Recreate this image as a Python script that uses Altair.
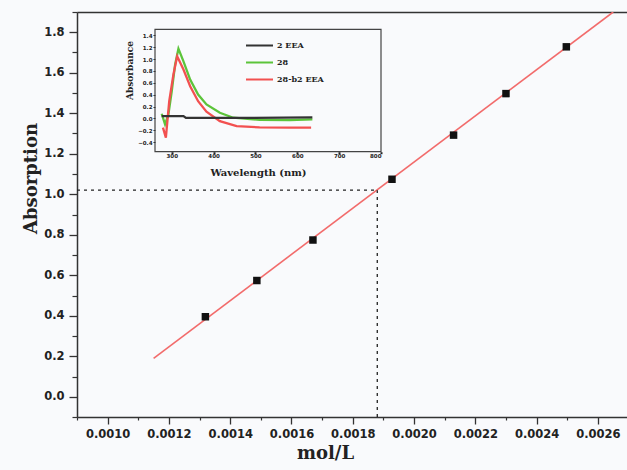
import altair as alt
import pandas as pd

# ---------------- main calibration data ----------------
conc = [0.001319, 0.001487, 0.001670, 0.001928, 0.002129, 0.002300, 0.002497]
absorption = [0.395, 0.574, 0.774, 1.074, 1.292, 1.497, 1.728]
fit_x = [0.00115, 0.00265]
fit_y = [0.19, 1.90]
guide_x = 0.00188
guide_y = 1.02

x_major = [0.0010, 0.0012, 0.0014, 0.0016, 0.0018, 0.0020, 0.0022, 0.0024, 0.0026]
x_minor = [0.0009, 0.0011, 0.0013, 0.0015, 0.0017, 0.0019, 0.0021, 0.0023, 0.0025, 0.0027]
y_major = [0.0, 0.2, 0.4, 0.6, 0.8, 1.0, 1.2, 1.4, 1.6, 1.8]
y_minor = [-0.1, 0.1, 0.3, 0.5, 0.7, 0.9, 1.1, 1.3, 1.5, 1.7, 1.9]
x_domain = [0.0009, 0.002695]
y_domain = [-0.1, 1.9]

# ---------------- inset spectra ----------------
series_names = ["2 EEA", "28", "28-b2 EEA"]
wl_black = [276, 328, 334, 486, 636]
ab_black = [0.039, 0.039, 0.008, 0.008, 0.017]
wl_green = [276, 284, 292, 300, 308, 316, 328, 344, 363, 383, 415, 447, 510, 582, 636]
ab_green = [0.079, -0.10, 0.067, 0.458, 0.906, 1.174, 0.961, 0.654, 0.403, 0.235, 0.096, 0.012, -0.025, -0.03, -0.017]
wl_red = [279, 286, 294, 304, 313, 328, 344, 363, 383, 415, 455, 510, 582, 633]
ab_red = [-0.156, -0.324, 0.29, 0.738, 1.045, 0.822, 0.542, 0.29, 0.112, -0.045, -0.129, -0.151, -0.156, -0.156]
inset_x_ticks = [300, 400, 500, 600, 700, 800]
inset_y_ticks = [-0.4, -0.2, 0.0, 0.2, 0.4, 0.6, 0.8, 1.0, 1.2, 1.4]
inset_x_domain = [260, 800]
inset_y_domain = [-0.56, 1.5]

W, H = 550, 405
INSET_X_RANGE = [78, 304]
INSET_Y_RANGE = [139.7, 17.3]

pts = pd.DataFrame({"c": conc, "a": absorption})
fit = pd.DataFrame({"c": fit_x, "a": fit_y})
hguide = pd.DataFrame({"c": [x_domain[0]], "c2": [guide_x], "a": [guide_y]})
vguide = pd.DataFrame({"c": [guide_x], "a": [y_domain[0]], "a2": [guide_y]})

xs = alt.Scale(domain=x_domain, nice=False, zero=False)
ys = alt.Scale(domain=y_domain, nice=False, zero=False)

lab_font = "DejaVu Sans"
title_font = "DejaVu Serif"

fit_layer = alt.Chart(fit).mark_line(color="#f26b6b", strokeWidth=1.6, clip=True).encode(
    x=alt.X("c:Q", scale=xs, axis=alt.Axis(
        orient="bottom", values=x_major, format=".4f", title="mol/L",
        tickSize=7, tickWidth=1.3, labelPadding=4, labelFont=lab_font, labelFontSize=11.5,
        labelFontWeight="bold", labelColor="#222", domainColor="#333", domainWidth=1.5,
        tickColor="#333", grid=False, titleFont=title_font, titleFontSize=18,
        titleFontWeight="bold", titleColor="#222", titleX=248, titlePadding=5)),
    y=alt.Y("a:Q", scale=ys, axis=alt.Axis(
        orient="left", values=y_major, format=".1f", title="Absorption",
        tickSize=8, tickWidth=1.3, labelPadding=5, labelFont=lab_font, labelFontSize=11.5,
        labelFontWeight="bold", labelColor="#222", domainColor="#333", domainWidth=1.5,
        tickColor="#333", grid=False, titleFont=title_font, titleFontSize=18,
        titleFontWeight="bold", titleColor="#222", titleY=166, titlePadding=3)),
)

minor_layer = alt.Chart(pts).mark_point(opacity=0).encode(
    x=alt.X("c:Q", scale=xs, axis=alt.Axis(
        orient="bottom", values=x_minor, labels=False, title=None, tickSize=3,
        tickWidth=1.2, tickColor="#333", domain=False, grid=False)),
    y=alt.Y("a:Q", scale=ys, axis=alt.Axis(
        orient="left", values=y_minor, labels=False, title=None, tickSize=5,
        tickWidth=1.2, tickColor="#333", domain=False, grid=False)),
)

top_layer = alt.Chart(pts).mark_point(opacity=0).encode(
    x=alt.X("c:Q", scale=xs, axis=alt.Axis(
        orient="top", labels=False, ticks=False, title=None, domainColor="#333",
        domainWidth=1.5, grid=False)),
    y=alt.Y("a:Q", scale=ys, axis=None),
)

hguide_layer = alt.Chart(hguide).mark_rule(color="#222", strokeWidth=1.3, strokeDash=[3, 4]).encode(
    x=alt.X("c:Q", scale=xs, axis=None),
    x2="c2:Q",
    y=alt.Y("a:Q", scale=ys, axis=None),
)
vguide_layer = alt.Chart(vguide).mark_rule(color="#222", strokeWidth=1.3, strokeDash=[3, 4]).encode(
    x=alt.X("c:Q", scale=xs, axis=None),
    y=alt.Y("a:Q", scale=ys, axis=None),
    y2="a2:Q",
)

pts_layer = alt.Chart(pts).mark_point(shape="square", filled=True, size=56, color="#111", opacity=1).encode(
    x=alt.X("c:Q", scale=xs, axis=None),
    y=alt.Y("a:Q", scale=ys, axis=None),
)

main = alt.layer(fit_layer, minor_layer, top_layer, hguide_layer, vguide_layer, pts_layer).resolve_axis(
    x="independent", y="independent")

# ---------------- inset ----------------
spec_rows = []
for name, wl, ab in [(series_names[1], wl_green, ab_green), (series_names[2], wl_red, ab_red),
                     (series_names[0], wl_black, ab_black)]:
    for w, a in zip(wl, ab):
        spec_rows.append({"series": name, "wl": w, "ab": a})
spec = pd.DataFrame(spec_rows)
frame = pd.DataFrame({"wl": [inset_x_domain[0]], "wl2": [inset_x_domain[1]],
                      "ab": [inset_y_domain[0]], "ab2": [inset_y_domain[1]]})

ixs = alt.Scale(domain=inset_x_domain, range=INSET_X_RANGE, nice=False, zero=False)
iys = alt.Scale(domain=inset_y_domain, range=INSET_Y_RANGE, nice=False, zero=False)

inset_xaxis = alt.Axis(
    orient="bottom", offset=-(H - INSET_Y_RANGE[0]), values=inset_x_ticks, format="d",
    title="Wavelength (nm)", tickSize=2, tickWidth=2, tickColor="#222", labelPadding=0,
    labelFont=lab_font, labelFontSize=5.5, labelFontWeight="bold", labelColor="#222",
    domain=False, grid=False, titleFont=title_font, titleFontSize=10, titleFontWeight="bold",
    titleColor="#222", titleX=181, titleY=21, titleBaseline="middle")
inset_yaxis = alt.Axis(
    orient="left", offset=-INSET_X_RANGE[0], values=inset_y_ticks, format=".1f",
    title="Absorbance", tickSize=2, tickWidth=1, tickColor="#222", labelPadding=1,
    labelFont=lab_font, labelFontSize=5.5, labelFontWeight="bold", labelColor="#222",
    domain=False, grid=False, titleFont=title_font, titleFontSize=9, titleFontWeight="bold",
    titleColor="#222", titleY=58, titlePadding=3)

inset_lines = alt.Chart(spec).mark_line(strokeWidth=2.3).encode(
    x=alt.X("wl:Q", scale=ixs, axis=inset_xaxis),
    y=alt.Y("ab:Q", scale=iys, axis=inset_yaxis),
    color=alt.Color("series:N", scale=alt.Scale(domain=series_names,
                                                  range=["#333333", "#5cc43a", "#f25050"]),
                    legend=alt.Legend(orient="none", legendX=168, legendY=26, title=None,
                                      symbolType="stroke", symbolSize=729, symbolStrokeWidth=2,
                                      clipHeight=15, padding=0, labelFont=title_font,
                                      labelFontSize=8, labelFontWeight="bold", labelColor="#222",
                                      labelOffset=3)),
    order=alt.Order("wl:Q"),
    detail="series:N",
)

inset_frame = alt.Chart(frame).mark_rect(fillOpacity=0, stroke="#444", strokeWidth=1.2).encode(
    x=alt.X("wl:Q", scale=ixs, axis=inset_xaxis),
    x2="wl2:Q",
    y=alt.Y("ab:Q", scale=iys, axis=inset_yaxis),
    y2="ab2:Q",
)

inset = alt.layer(inset_lines, inset_frame)

chart = alt.layer(main, inset).resolve_scale(
    x="independent", y="independent"
).properties(
    width=W, height=H,
    autosize=alt.AutoSizeParams(type="none"),
    padding={"left": 77, "top": 12, "right": 0, "bottom": 53},
    background="#f9fafc",
).configure_view(stroke=None)

chart.save("out.html", embed_options={"renderer": "svg", "actions": False})
